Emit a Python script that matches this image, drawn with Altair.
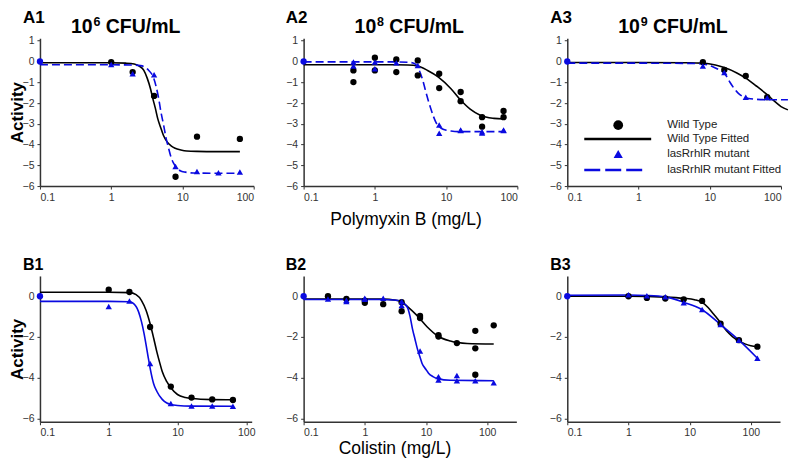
import altair as alt
import pandas as pd

FONT = "Liberation Sans"
BLACK = "#000000"
BLUE = "#0a0ae0"
AXIS_GREY = "#333333"

# ---------------- A1 : 10^6 CFU/mL, Polymyxin B ----------------
A1_wt_x = [1, 2, 4, 8, 16, 64]
A1_wt_y = [-0.03, -0.51, -1.66, -5.55, -3.62, -3.73]
A1_mu_x = [1, 2, 4, 8, 16, 32, 64]
A1_mu_y = [-0.14, -0.59, -0.64, -5.06, -5.30, -5.36, -5.32]
A1_wtfit_x = [0.1, 1, 1.6, 2.1, 2.5, 2.87, 3.2, 3.56, 3.85, 4.17, 4.5, 4.9, 5.4, 6.06, 7.0, 7.9, 9.5, 11.5, 16, 30, 64]
A1_wtfit_y = [-0.06, -0.06, -0.08, -0.12, -0.23, -0.43, -0.8, -1.31, -1.8, -2.26, -2.75, -3.14, -3.55, -3.86, -4.08, -4.18, -4.26, -4.31, -4.33, -4.34, -4.34]
A1_mufit_x = [0.1, 1, 2, 2.58, 3.0, 3.37, 3.7, 3.95, 4.3, 4.64, 5.0, 5.44, 5.9, 6.39, 6.9, 7.5, 8.3, 9.3, 11, 14.2, 25, 64]
A1_mufit_y = [-0.16, -0.16, -0.17, -0.2, -0.28, -0.43, -0.6, -0.8, -1.25, -1.79, -2.45, -3.06, -3.7, -4.18, -4.6, -4.9, -5.12, -5.26, -5.33, -5.37, -5.38, -5.38]

# ---------------- A2 : 10^8 CFU/mL ----------------
A2_wt_x = [0.5, 0.5, 1, 1, 2, 2, 4, 4, 8, 8, 16, 16, 32, 32, 64, 64]
A2_wt_y = [-0.43, -0.99, 0.18, -0.43, 0.10, -0.51, 0.05, -0.67, -0.59, -1.28, -1.47, -1.91, -2.68, -3.14, -2.38, -2.68]
A2_mu_x = [0.5, 0.5, 1, 1, 2, 4, 8, 8, 16, 16, 32, 32, 64, 64]
A2_mu_y = [-0.02, -0.22, -0.03, -0.35, -0.06, -0.19, -3.06, -3.46, -3.30, -3.32, -3.38, -3.45, -3.30, -3.33]
A2_wtfit_x = [0.1, 1, 2, 2.9, 4.0, 5.5, 7.8, 11.7, 16.1, 22, 30.6, 47, 64]
A2_wtfit_y = [-0.16, -0.16, -0.16, -0.17, -0.22, -0.43, -0.75, -1.31, -1.87, -2.31, -2.6, -2.74, -2.77]
A2_mufit_x = [0.1, 1, 2, 3, 3.6, 4.2, 4.7, 5.2, 5.7, 6.2, 6.7, 7.2, 8, 8.9, 10, 11.7, 16, 32, 64]
A2_mufit_y = [-0.02, -0.02, -0.02, -0.04, -0.1, -0.43, -0.9, -1.47, -1.95, -2.35, -2.68, -2.93, -3.13, -3.25, -3.31, -3.35, -3.38, -3.38, -3.38]

# ---------------- A3 : 10^9 CFU/mL ----------------
A3_wt_x = [8, 16, 32, 64]
A3_wt_y = [-0.03, -0.40, -0.70, -1.72]
A3_mu_x = [8, 16, 32, 64]
A3_mu_y = [-0.22, -0.53, -1.72, -1.74]
A3_wtfit_x = [0.1, 1, 5, 8, 12, 16, 24, 32, 45, 64, 80, 100, 125]
A3_wtfit_y = [-0.05, -0.05, -0.06, -0.08, -0.17, -0.29, -0.55, -0.8, -1.18, -1.6, -1.9, -2.17, -2.33]
A3_mufit_x = [0.1, 1, 5, 8.2, 11, 13.5, 15.5, 17.5, 19.2, 22, 25, 29.3, 35, 44.9, 64, 100, 125]
A3_mufit_y = [-0.08, -0.08, -0.09, -0.13, -0.25, -0.4, -0.53, -0.75, -1.0, -1.3, -1.52, -1.69, -1.78, -1.82, -1.84, -1.84, -1.84]

# ---------------- B1 : Colistin ----------------
B1_wt_x = [1, 2, 4, 8, 16, 32, 64]
B1_wt_y = [0.32, 0.21, -1.51, -4.44, -4.98, -5.07, -5.10]
B1_mu_x = [1, 2, 4, 8, 16, 32, 64]
B1_mu_y = [-0.50, -0.23, -3.31, -5.27, -5.40, -5.40, -5.41]
B1_wtfit_x = [0.1, 1, 2, 2.5, 3, 3.5, 4, 4.5, 5, 5.5, 6, 7, 8, 10, 13, 16, 32, 64]
B1_wtfit_y = [0.2, 0.2, 0.18, 0.08, -0.21, -0.7, -1.35, -2.05, -2.72, -3.25, -3.7, -4.2, -4.5, -4.83, -4.98, -5.03, -5.08, -5.09]
B1_mufit_x = [0.1, 1, 2, 2.5, 3, 3.25, 3.5, 3.75, 4, 4.5, 5, 6, 7, 8, 10, 16, 64]
B1_mufit_y = [-0.25, -0.25, -0.27, -0.5, -1.26, -1.8, -2.4, -3.0, -3.53, -4.3, -4.67, -5.07, -5.25, -5.32, -5.37, -5.4, -5.41]

# ---------------- B2 ----------------
B2_wt_x = [0.25, 0.5, 1, 1, 2, 4, 4, 8, 8, 16, 16, 32, 64, 64, 64, 128]
B2_wt_y = [0.0, -0.13, -0.21, -0.32, -0.39, -0.73, -0.29, -0.97, -1.07, -1.91, -1.98, -2.30, -1.70, -2.56, -3.86, -1.43]
B2_mu_x = [0.25, 0.5, 0.5, 1, 1, 2, 4, 4, 8, 16, 16, 32, 32, 64, 128]
B2_mu_y = [-0.13, -0.20, -0.26, -0.10, -0.15, -0.10, -0.26, -0.45, -2.69, -3.95, -4.12, -3.90, -4.15, -4.15, -4.25]
B2_wtfit_x = [0.1, 1, 2, 3, 4, 5.1, 7.1, 10.4, 15.3, 25, 47, 128]
B2_wtfit_y = [-0.13, -0.13, -0.14, -0.18, -0.28, -0.53, -0.94, -1.5, -1.94, -2.2, -2.32, -2.35]
B2_mufit_x = [0.1, 1, 2, 3, 4, 4.5, 5.1, 5.5, 6, 6.6, 7.2, 8, 8.6, 10, 11, 13, 15.5, 25, 128]
B2_mufit_y = [-0.16, -0.16, -0.16, -0.18, -0.25, -0.38, -0.62, -1.0, -1.59, -2.1, -2.56, -3.0, -3.29, -3.6, -3.78, -3.95, -4.05, -4.13, -4.15]

# ---------------- B3 ----------------
B3_wt_x = [1, 2, 4, 8, 16, 32, 64, 128]
B3_wt_y = [0.0, -0.08, -0.11, -0.15, -0.23, -1.35, -2.16, -2.48]
B3_mu_x = [1, 2, 4, 8, 16, 32, 64, 128]
B3_mu_y = [0.08, 0.03, -0.02, -0.32, -0.65, -1.39, -2.16, -3.05]
B3_wtfit_x = [0.1, 1, 4, 8, 12, 16, 20, 25, 32, 40, 50, 64, 80, 100, 128]
B3_wtfit_y = [0.0, 0.0, -0.04, -0.1, -0.17, -0.3, -0.55, -0.9, -1.3, -1.7, -1.98, -2.2, -2.34, -2.43, -2.48]
B3_mufit_x = [0.1, 1, 2, 4, 8, 16, 32, 64, 128]
B3_mufit_y = [0.05, 0.06, 0.04, -0.03, -0.3, -0.66, -1.39, -2.16, -3.05]

# control point (blue circle at 0.1, 0) in every panel
CTRL_X = [0.1]
CTRL_Y = [0.0]

PANEL_LABELS = ["A1", "A2", "A3", "B1", "B2", "B3"]
CONC_BASE = "10"
CONC_EXP = ["6", "8", "9"]
CONC_UNIT = "CFU/mL"
X_TITLE_A = "Polymyxin B (mg/L)"
X_TITLE_B = "Colistin (mg/L)"
Y_TITLE = "Activity"
LEGEND_LABELS = ["Wild Type", "Wild Type Fitted", "lasRrhlR mutant", "lasRrhlR mutant Fitted"]
X_TICKS = [0.1, 1, 10, 100]
Y_TICKS_A = [-6, -5, -4, -3, -2, -1, 0, 1]
Y_TICKS_B = [-6, -4, -2, 0]


def xy(xs, ys):
    return pd.DataFrame({"x": xs, "y": ys})


def text_layer(t, x, y, size, weight="bold", align="left", baseline="alphabetic", color=BLACK):
    return alt.Chart(pd.DataFrame({"t": [t]})).mark_text(
        align=align, baseline=baseline, font=FONT, fontSize=size,
        fontWeight=weight, color=color).encode(
        x=alt.value(x), y=alt.value(y), text="t:N")


def panel(label, wt, mu, wtfit, mufit, xmax, ydom, yticks, w, h, dashed,
          ytitle=False, xtitle=None, xtitle_x=0, xtitle_y=0,
          label_xy=(-19, -15.5), label_size=17,
          conc_exp=None, conc_x=0, legend=False):
    xaxis_kw = dict(values=X_TICKS, format="~g", labelFontSize=10.5, labelPadding=3)
    if xtitle:
        xaxis_kw.update(title=xtitle, titleFontSize=17.5, titleFontWeight="normal",
                        titleX=xtitle_x, titleY=xtitle_y, titleBaseline="alphabetic",
                        titleAlign="center")
    else:
        xaxis_kw.update(title=None)
    yaxis_kw = dict(values=yticks, labelFontSize=10.5, labelPadding=3)
    if ytitle:
        yaxis_kw.update(title=Y_TITLE, titleFontSize=17, titleFontWeight="bold",
                        titleX=-22.5, titleY=h / 2, titleBaseline="middle",
                        titleAlign="center", titleAngle=270)
    else:
        yaxis_kw.update(title=None)

    X = alt.X("x:Q", scale=alt.Scale(type="log", domain=[0.1, xmax], nice=False),
              axis=alt.Axis(**xaxis_kw))
    Y = alt.Y("y:Q", scale=alt.Scale(domain=ydom, nice=False, zero=False),
              axis=alt.Axis(**yaxis_kw))

    line_kw = dict(interpolate="monotone", strokeWidth=1.6)
    wt_line = alt.Chart(xy(*wtfit)).mark_line(color=BLACK, **line_kw).encode(x=X, y=Y)
    if dashed:
        mu_line = alt.Chart(xy(*mufit)).mark_line(color=BLUE, strokeDash=[8, 4], **line_kw).encode(x=X, y=Y)
    else:
        mu_line = alt.Chart(xy(*mufit)).mark_line(color=BLUE, **line_kw).encode(x=X, y=Y)
    wt_pts = alt.Chart(xy(*wt)).mark_point(shape="circle", filled=True, color=BLACK,
                                           size=40, opacity=1).encode(x=X, y=Y)
    mu_pts = alt.Chart(xy(*mu)).mark_point(shape="triangle-up", filled=True, color=BLUE,
                                           size=40, opacity=1).encode(x=X, y=Y)
    ctrl = alt.Chart(xy(CTRL_X, CTRL_Y)).mark_point(shape="circle", filled=True, color=BLUE,
                                                    size=40, opacity=1).encode(x=X, y=Y)
    layers = [wt_line, mu_line, wt_pts, mu_pts, ctrl,
              text_layer(label, label_xy[0], label_xy[1], label_size)]
    if conc_exp:
        f = 19.5
        fs = 12.5
        base_y = -5
        x0 = conc_x
        x_sup = x0 + 1.112 * f + 0.8
        x_unit = x_sup + 0.556 * fs + 0.278 * f
        layers += [
            text_layer(CONC_BASE, x0, base_y, f),
            text_layer(conc_exp, x_sup, base_y - 7.5, fs),
            text_layer(CONC_UNIT, x_unit, base_y, f),
        ]
    if legend:
        lx_sym, lx_l0, lx_l1, lx_txt = 51, 17, 84, 100
        ly = [87, 101, 116, 132]
        ldf = pd.DataFrame({"t": [LEGEND_LABELS[0]]})
        layers += [
            alt.Chart(ldf).mark_point(shape="circle", filled=True, color=BLACK, size=95, opacity=1)
            .encode(x=alt.value(lx_sym), y=alt.value(ly[0])),
            alt.Chart(ldf).mark_rule(color=BLACK, strokeWidth=2.5)
            .encode(x=alt.value(lx_l0), x2=alt.value(lx_l1), y=alt.value(ly[1])),
            alt.Chart(ldf).mark_point(shape="triangle-up", filled=True, color=BLUE, size=85, opacity=1)
            .encode(x=alt.value(lx_sym), y=alt.value(ly[2])),
            alt.Chart(ldf).mark_rule(color=BLUE, strokeWidth=2.5, strokeDash=[16, 5])
            .encode(x=alt.value(lx_l0), x2=alt.value(lx_l0 + 60), y=alt.value(ly[3])),
        ]
        for t, yy in zip(LEGEND_LABELS, ly):
            layers.append(text_layer(t, lx_txt, yy, 11.5, weight="normal",
                                     baseline="middle", color="#222222"))
    return alt.layer(*layers).properties(width=w, height=h)


A_DOM = [-6, 1.12]
B_DOM = [-6.17, 1.0]
AW, AH = 214, 148
BH = 146

p_a1 = panel("A1", (A1_wt_x, A1_wt_y), (A1_mu_x, A1_mu_y), (A1_wtfit_x, A1_wtfit_y),
             (A1_mufit_x, A1_mufit_y), 100, A_DOM, Y_TICKS_A, AW, AH, True,
             ytitle=True, label_xy=(-17, -15.5), conc_exp=CONC_EXP[0], conc_x=31)
p_a2 = panel("A2", (A2_wt_x, A2_wt_y), (A2_mu_x, A2_mu_y), (A2_wtfit_x, A2_wtfit_y),
             (A2_mufit_x, A2_mufit_y), 100, A_DOM, Y_TICKS_A, AW, AH, True,
             xtitle=X_TITLE_A, xtitle_x=102, xtitle_y=38, label_xy=(-18, -15.5),
             conc_exp=CONC_EXP[1], conc_x=51)
p_a3 = panel("A3", (A3_wt_x, A3_wt_y), (A3_mu_x, A3_mu_y), (A3_wtfit_x, A3_wtfit_y),
             (A3_mufit_x, A3_mufit_y), 100, A_DOM, Y_TICKS_A, AW, AH, True,
             label_xy=(-17, -15.5), conc_exp=CONC_EXP[2], conc_x=51, legend=True)
p_b1 = panel("B1", (B1_wt_x, B1_wt_y), (B1_mu_x, B1_mu_y), (B1_wtfit_x, B1_wtfit_y),
             (B1_mufit_x, B1_mufit_y), 120, B_DOM, Y_TICKS_B, 212, BH, False,
             ytitle=True, label_xy=(-17, -6), label_size=16)
p_b2 = panel("B2", (B2_wt_x, B2_wt_y), (B2_mu_x, B2_mu_y), (B2_wtfit_x, B2_wtfit_y),
             (B2_mufit_x, B2_mufit_y), 300, B_DOM, Y_TICKS_B, 213, BH, False,
             xtitle=X_TITLE_B, xtitle_x=91, xtitle_y=32, label_xy=(-18, -6), label_size=16)
p_b3 = panel("B3", (B3_wt_x, B3_wt_y), (B3_mu_x, B3_mu_y), (B3_wtfit_x, B3_wtfit_y),
             (B3_mufit_x, B3_mufit_y), 300, B_DOM, Y_TICKS_B, 213, BH, False,
             label_xy=(-17, -6), label_size=16)

chart = alt.concat(p_a1, p_a2, p_a3, p_b1, p_b2, p_b3, columns=3,
                   spacing={"column": 50, "row": 90}, bounds="flush").properties(
    padding=0
).configure_view(stroke=None).configure_axis(
    grid=False, domainColor=AXIS_GREY, domainWidth=1.5, tickColor=AXIS_GREY,
    tickSize=3, tickWidth=1, labelFont=FONT, labelColor="#333333",
    titleFont=FONT, titleColor=BLACK
)

chart.save("out.html", embed_options={"renderer": "svg", "actions": False})
